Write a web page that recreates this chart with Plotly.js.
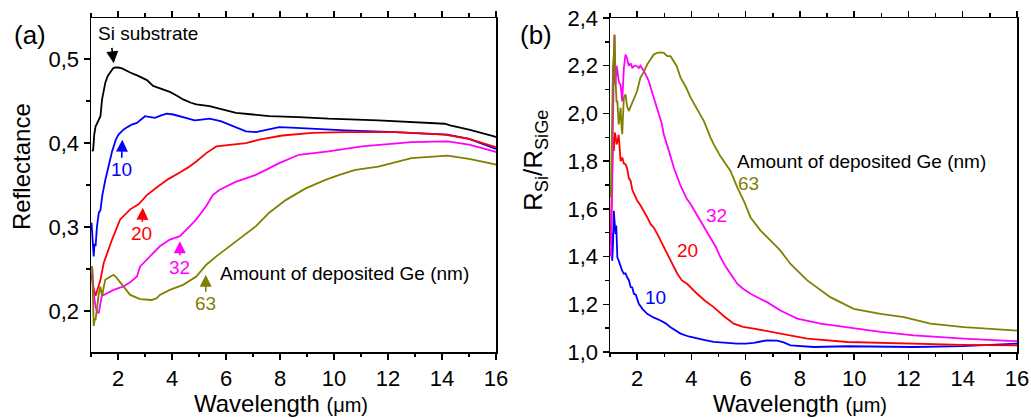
<!DOCTYPE html>
<html>
<head>
<meta charset="utf-8">
<script src="https://cdn.plot.ly/plotly-3.0.1.min.js"></script>
<style>html,body{margin:0;padding:0;background:#fff;}#chart{width:1031px;height:418px;}</style>
</head>
<body>
<div id="chart"></div>
<script>
// ---------- Panel (a): Reflectance ----------
const wlSi = [1.05,1.08,1.12,1.17,1.22,1.29,1.35,1.41,1.47,1.53,1.62,1.72,1.82,1.9,2.0,2.15,2.3,2.45,2.75,3.07,3.3,3.55,3.92,4.2,4.41,4.7,4.9,5.39,5.9,6.37,7.0,7.6,8.7,9.8,11.64,13.0,14.1,14.3,15.0,15.93,16];
const rSi  = [0.39,0.392,0.41,0.42,0.423,0.428,0.432,0.452,0.462,0.472,0.48,0.485,0.489,0.49,0.49,0.489,0.486,0.484,0.48,0.475,0.468,0.465,0.461,0.456,0.452,0.448,0.446,0.444,0.44,0.436,0.434,0.432,0.431,0.429,0.427,0.425,0.423,0.421,0.416,0.408,0.407];

const wl10 = [1.02,1.05,1.08,1.1,1.13,1.17,1.22,1.29,1.35,1.42,1.53,1.62,1.72,1.78,1.84,1.92,2.02,2.2,2.35,2.51,2.7,2.85,3.0,3.2,3.37,3.6,3.8,4.05,4.29,4.55,4.84,5.1,5.39,5.8,6.13,6.45,6.74,7.11,7.5,7.97,8.6,9.19,10.42,12.26,14.2,15.0,15.93,16];
const r10  = [0.305,0.29,0.275,0.265,0.28,0.277,0.3,0.317,0.32,0.338,0.356,0.368,0.384,0.39,0.396,0.404,0.41,0.416,0.419,0.422,0.424,0.428,0.432,0.431,0.43,0.433,0.435,0.434,0.432,0.429,0.427,0.428,0.429,0.426,0.422,0.418,0.414,0.413,0.416,0.419,0.418,0.417,0.415,0.413,0.41,0.405,0.394,0.393];

const wl20 = [1.0,1.05,1.1,1.17,1.23,1.3,1.35,1.47,1.6,1.78,2.08,2.25,2.45,2.76,3.07,3.43,3.86,4.29,4.6,4.9,5.27,5.64,6.13,6.74,7.23,8.09,9.19,10.42,12.26,14.1,15.0,15.93,16];
const r20  = [0.245,0.235,0.226,0.218,0.224,0.232,0.237,0.257,0.269,0.285,0.309,0.314,0.321,0.327,0.338,0.347,0.357,0.365,0.371,0.378,0.388,0.396,0.398,0.4,0.404,0.409,0.412,0.413,0.413,0.41,0.405,0.396,0.395];

const wl32 = [1.05,1.1,1.17,1.23,1.29,1.35,1.41,1.47,1.65,1.84,2.02,2.2,2.45,2.7,2.82,3.19,3.55,3.92,4.29,4.66,4.9,5.27,5.51,5.75,6.0,6.37,6.74,7.1,7.48,7.97,8.7,9.8,11.03,12.87,14.2,15.0,15.93,16];
const r32  = [0.25,0.22,0.205,0.198,0.198,0.21,0.22,0.219,0.222,0.225,0.227,0.229,0.234,0.241,0.253,0.265,0.277,0.285,0.289,0.301,0.309,0.325,0.338,0.344,0.348,0.354,0.358,0.362,0.368,0.376,0.386,0.39,0.396,0.401,0.402,0.398,0.39,0.389];

const wl63 = [1.0,1.04,1.07,1.1,1.14,1.17,1.23,1.29,1.35,1.41,1.47,1.53,1.72,1.84,1.96,2.2,2.45,2.82,3.25,3.43,3.55,3.92,4.41,4.9,5.27,5.64,6.13,6.62,7.11,7.6,8.21,8.95,9.68,10.2,10.79,11.64,12.87,14.2,15.0,15.93,16];
const r63  = [0.25,0.253,0.22,0.182,0.19,0.19,0.205,0.221,0.229,0.217,0.228,0.237,0.241,0.243,0.239,0.229,0.219,0.214,0.213,0.215,0.219,0.225,0.231,0.241,0.255,0.265,0.277,0.289,0.301,0.317,0.332,0.346,0.356,0.362,0.368,0.372,0.382,0.385,0.381,0.375,0.374];

// ---------- Panel (b): R_Si / R_SiGe ----------
const wlB10 = [1.02,1.05,1.08,1.11,1.14,1.17,1.2,1.23,1.25,1.27,1.32,1.39,1.45,1.51,1.57,1.63,1.7,1.76,1.82,1.88,1.95,2.06,2.2,2.37,2.6,2.86,3.05,3.23,3.4,3.6,3.9,4.21,4.5,4.82,5.2,5.69,6.0,6.3,6.55,6.79,7.16,7.4,7.65,8.0,8.51,9.74,11.0,12.2,14.0,15.88,16];
const q10   = [1.45,1.5,1.383,1.45,1.592,1.52,1.495,1.53,1.45,1.397,1.383,1.355,1.34,1.328,1.33,1.313,1.3,1.272,1.27,1.244,1.24,1.202,1.18,1.16,1.145,1.132,1.12,1.104,1.09,1.077,1.065,1.056,1.05,1.042,1.038,1.035,1.035,1.038,1.044,1.049,1.048,1.04,1.028,1.024,1.021,1.024,1.023,1.021,1.025,1.035,1.035];

const wlB20 = [1.02,1.05,1.08,1.11,1.14,1.17,1.2,1.24,1.27,1.32,1.39,1.45,1.51,1.57,1.63,1.69,1.76,1.82,1.9,2.0,2.12,2.25,2.37,2.49,2.62,2.74,2.9,3.11,3.3,3.48,3.65,3.84,4.21,4.5,4.82,5.2,5.56,5.9,6.3,6.8,7.28,8.27,9.74,11.0,12.2,14.0,15.88,16];
const q20   = [1.45,1.65,1.84,1.9,1.843,1.92,1.91,1.87,1.88,1.91,1.8,1.815,1.79,1.787,1.77,1.73,1.717,1.68,1.66,1.635,1.615,1.592,1.565,1.537,1.52,1.495,1.46,1.411,1.37,1.328,1.3,1.286,1.244,1.215,1.188,1.15,1.119,1.105,1.098,1.088,1.077,1.056,1.042,1.038,1.035,1.03,1.028,1.028];

const wlB32 = [1.03,1.06,1.08,1.1,1.13,1.16,1.2,1.24,1.27,1.33,1.39,1.45,1.51,1.57,1.63,1.69,1.76,1.82,1.88,1.94,2.0,2.06,2.12,2.19,2.25,2.37,2.43,2.52,2.61,2.7,2.8,2.9,2.98,3.11,3.17,3.35,3.6,3.84,3.97,4.15,4.33,4.5,4.7,4.9,5.07,5.25,5.44,5.69,5.9,6.18,6.5,6.79,7.28,7.9,8.76,9.74,10.97,12.2,14.04,15.88,16];
const q32   = [1.4,1.55,1.69,1.9,2.1,2.33,2.12,2.2,2.18,2.13,2.12,2.05,2.19,2.247,2.23,2.2,2.21,2.19,2.198,2.2,2.198,2.19,2.2,2.184,2.177,2.15,2.135,2.1,2.066,2.03,1.996,1.96,1.913,1.87,1.843,1.773,1.697,1.64,1.62,1.585,1.55,1.52,1.481,1.44,1.397,1.36,1.328,1.286,1.265,1.244,1.225,1.209,1.174,1.14,1.119,1.104,1.084,1.07,1.056,1.046,1.046];

const wlB63 = [1.03,1.06,1.08,1.11,1.14,1.17,1.2,1.24,1.27,1.3,1.32,1.36,1.39,1.42,1.45,1.48,1.51,1.57,1.63,1.69,1.76,1.82,1.88,1.94,2.0,2.12,2.25,2.37,2.49,2.61,2.74,2.86,2.98,3.11,3.23,3.35,3.45,3.6,3.8,3.97,4.2,4.46,4.7,4.82,5.07,5.25,5.44,5.69,5.93,6.18,6.55,7.04,7.28,7.65,8.27,9.12,9.98,10.97,11.83,12.81,14.04,15.88,16];
const q63   = [1.65,1.9,2.05,2.2,2.247,2.33,2.15,2.05,2.05,2.0,1.954,1.99,2.024,1.95,1.913,1.99,2.066,2.08,2.03,2.01,2.03,2.05,2.066,2.08,2.094,2.15,2.175,2.205,2.225,2.247,2.254,2.256,2.254,2.24,2.24,2.219,2.2,2.15,2.11,2.066,2.02,1.968,1.9,1.871,1.82,1.79,1.759,1.69,1.634,1.564,1.509,1.453,1.425,1.369,1.3,1.23,1.181,1.16,1.146,1.119,1.104,1.091,1.09];

const tickVals = [2,4,6,8,10,12,14,16];
const labelsB = ['10','20','32','63'];
const xTitle = 'Wavelength <span style="font-size:20px">(μm)</span>';

const FONT = 'Arial, "Liberation Sans", sans-serif';
const C = {si:'#000000', n10:'#0000ff', n20:'#ff0000', n32:'#ff00ff', n63:'#808000'};
const LW = 1.8;
const TICKFS = 22;

function tr(x, y, color, xa, ya) {
  return {x:x, y:y, type:'scatter', mode:'lines', line:{color:color, width:LW}, xaxis:xa, yaxis:ya, hoverinfo:'skip', showlegend:false};
}

const data = [
  tr(wlSi, rSi, C.si, 'x', 'y'),
  tr(wl10, r10, C.n10, 'x', 'y'),
  tr(wl20, r20, C.n20, 'x', 'y'),
  tr(wl32, r32, C.n32, 'x', 'y'),
  tr(wl63, r63, C.n63, 'x', 'y'),
  tr(wlB10, q10, C.n10, 'x2', 'y2'),
  tr(wlB20, q20, C.n20, 'x2', 'y2'),
  tr(wlB32, q32, C.n32, 'x2', 'y2'),
  tr(wlB63, q63, C.n63, 'x2', 'y2')
];

function xax(domain, anchor) {
  return {
    domain: domain, anchor: anchor, range: [1, 16],
    tickmode: 'array', tickvals: tickVals,
    ticks: 'outside', ticklen: 6, tickwidth: 1.5, tickcolor: '#000',
    minor: {ticks: 'outside', ticklen: 3.5, tickwidth: 1.5, tickcolor: '#000', dtick: 1, tick0: 1},
    showline: true, linewidth: 1.5, linecolor: '#000', mirror: 'ticks',
    showgrid: false, zeroline: false,
    tickfont: {family: FONT, size: TICKFS, color: '#000'}
  };
}

const arrowBase = {showarrow: true, arrowhead: 2, arrowsize: 1.5, arrowwidth: 1.6, standoff: 0};
const titleFont = {family: FONT, size: 24, color: '#000'};

const layout = {
  width: 1031, height: 418,
  margin: {l: 91, r: 14, t: 18, b: 66},
  paper_bgcolor: '#fff', plot_bgcolor: '#fff',
  separators: ',.',
  font: {family: FONT, color: '#000'},
  showlegend: false,
  xaxis: xax([0, 0.4374], 'y'),
  xaxis2: xax([0.5605, 1], 'y2'),
  yaxis: {
    domain: [0, 1], anchor: 'x', range: [0.151, 0.549],
    tickmode: 'linear', tick0: 0.2, dtick: 0.1, tickformat: '.1f',
    ticks: 'outside', ticklen: 6, tickwidth: 1.5, tickcolor: '#000',
    minor: {ticks: 'outside', ticklen: 3.5, tickwidth: 1.5, tickcolor: '#000', dtick: 0.05, tick0: 0.15},
    showline: true, linewidth: 1.5, linecolor: '#000', mirror: true,
    showgrid: false, zeroline: false,
    tickfont: {family: FONT, size: TICKFS, color: '#000'}
  },
  yaxis2: {
    domain: [0, 1], anchor: 'x2', range: [1.0, 2.4],
    tickmode: 'linear', tick0: 1.0, dtick: 0.2, tickformat: '.1f',
    ticks: 'outside', ticklen: 6, tickwidth: 1.5, tickcolor: '#000',
    minor: {ticks: 'outside', ticklen: 3.5, tickwidth: 1.5, tickcolor: '#000', dtick: 0.1, tick0: 1.0},
    showline: true, linewidth: 1.5, linecolor: '#000', mirror: true,
    showgrid: false, zeroline: false,
    tickfont: {family: FONT, size: TICKFS, color: '#000'}
  },
  annotations: [
    // axis titles
    {xref: 'paper', yref: 'paper', x: -0.0745, y: 0.554, xanchor: 'center', yanchor: 'middle', textangle: -90, text: 'Reflectance', showarrow: false, font: titleFont},
    {xref: 'paper', yref: 'paper', x: 0.4795, y: 0.572, xanchor: 'center', yanchor: 'middle', textangle: -90, text: 'R<sub>Si</sub>/R<sub>SiGe</sub>', showarrow: false, font: {family: FONT, size: 26, color: '#000'}},
    {xref: 'paper', yref: 'paper', x: 0.2052, y: -0.1527, xanchor: 'center', yanchor: 'middle', text: xTitle, showarrow: false, font: titleFont},
    {xref: 'paper', yref: 'paper', x: 0.7657, y: -0.1527, xanchor: 'center', yanchor: 'middle', text: xTitle, showarrow: false, font: titleFont},
    // panel letters
    {xref: 'paper', yref: 'paper', x: -0.066, y: 0.95, xanchor: 'center', yanchor: 'middle', text: '(a)', showarrow: false, font: {family: FONT, size: 26, color: '#000'}},
    {xref: 'paper', yref: 'paper', x: 0.4806, y: 0.95, xanchor: 'center', yanchor: 'middle', text: '(b)', showarrow: false, font: {family: FONT, size: 26, color: '#000'}},
    // panel (a)
    {xref: 'x', yref: 'y', x: 1.2, y: 0.531, xanchor: 'left', yanchor: 'middle', text: 'Si substrate', showarrow: false, font: {family: FONT, size: 19, color: '#000'}},
    Object.assign({xref: 'x', yref: 'y', x: 1.84, y: 0.495, ax: -2, ay: -17, text: '', arrowcolor: '#000'}, arrowBase),
    Object.assign({xref: 'x', yref: 'y', x: 2.16, y: 0.404, ax: -1, ay: 30, text: labelsB[0], arrowcolor: C.n10, font: {family: FONT, size: 19, color: C.n10}}, arrowBase),
    Object.assign({xref: 'x', yref: 'y', x: 2.92, y: 0.323, ax: -1, ay: 26, text: labelsB[1], arrowcolor: C.n20, font: {family: FONT, size: 19, color: C.n20}}, arrowBase),
    Object.assign({xref: 'x', yref: 'y', x: 4.29, y: 0.283, ax: 0, ay: 26, text: labelsB[2], arrowcolor: C.n32, font: {family: FONT, size: 19, color: C.n32}}, arrowBase),
    Object.assign({xref: 'x', yref: 'y', x: 5.25, y: 0.243, ax: 0, ay: 29, text: labelsB[3], arrowcolor: C.n63, font: {family: FONT, size: 19, color: C.n63}}, arrowBase),
    {xref: 'x', yref: 'y', x: 5.70, y: 0.245, xanchor: 'left', text: 'Amount of deposited Ge (nm)', showarrow: false, font: {family: FONT, size: 19, color: '#000'}},
    // panel (b)
    {xref: 'x2', yref: 'y2', x: 5.62, y: 1.80, xanchor: 'left', text: 'Amount of deposited Ge (nm)', showarrow: false, font: {family: FONT, size: 19, color: '#000'}},
    {xref: 'x2', yref: 'y2', x: 6.10, y: 1.705, text: labelsB[3], showarrow: false, font: {family: FONT, size: 19, color: C.n63}},
    {xref: 'x2', yref: 'y2', x: 4.92, y: 1.571, text: labelsB[2], showarrow: false, font: {family: FONT, size: 19, color: C.n32}},
    {xref: 'x2', yref: 'y2', x: 3.86, y: 1.425, text: labelsB[1], showarrow: false, font: {family: FONT, size: 19, color: C.n20}},
    {xref: 'x2', yref: 'y2', x: 2.68, y: 1.23, text: labelsB[0], showarrow: false, font: {family: FONT, size: 19, color: C.n10}}
  ]
};

Plotly.newPlot('chart', data, layout, {displayModeBar: false, staticPlot: true});
</script>
</body>
</html>
